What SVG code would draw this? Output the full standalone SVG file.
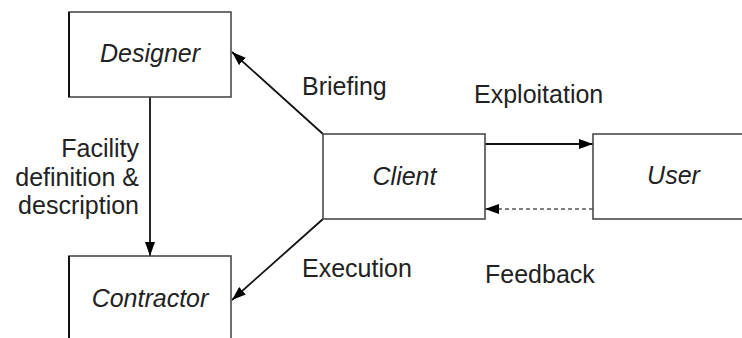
<svg xmlns="http://www.w3.org/2000/svg" width="742" height="338" viewBox="0 0 742 338">
  <style>
    .box { fill: #ffffff; stroke: #4a4a4a; stroke-width: 1.6; }
    .name { font-family: "Liberation Sans", Arial, sans-serif; font-style: italic; font-size: 25px; fill: #222; text-anchor: middle; }
    .lbl { font-family: "Liberation Sans", Arial, sans-serif; font-size: 25px; fill: #222; }
    .end { text-anchor: end; }
    .edge { stroke: #111; stroke-width: 1.8; fill: none; }
    .dash { stroke: #555; stroke-width: 1.3; fill: none; stroke-dasharray: 4 3; }
  </style>
  <defs>
    <marker id="arrow" viewBox="0 0 14 10" refX="14" refY="5" markerWidth="14" markerHeight="10" markerUnits="userSpaceOnUse" orient="auto">
      <path d="M0,0 L14,5 L0,10 Z" fill="#000"/>
    </marker>
  </defs>

  <rect width="742" height="338" fill="#ffffff"/>

  <g id="connectors">
    <line class="edge" x1="150" y1="97" x2="150" y2="256" marker-end="url(#arrow)"/>
    <line class="edge" x1="323" y1="134" x2="232" y2="52" marker-end="url(#arrow)"/>
    <line class="edge" x1="323" y1="219" x2="232" y2="300" marker-end="url(#arrow)"/>
    <line class="edge" x1="485" y1="144" x2="593" y2="144" marker-end="url(#arrow)"/>
    <line class="dash" x1="593" y1="209" x2="485" y2="209" marker-end="url(#arrow)"/>
  </g>

  <g id="designer">
    <rect class="box" x="69" y="12" width="162" height="85"/>
    <line x1="69" y1="12" x2="69" y2="97" stroke="#111" stroke-width="2"/>
    <text class="name" x="150" y="62">Designer</text>
  </g>

  <g id="contractor">
    <rect class="box" x="69" y="256" width="162" height="100"/>
    <line x1="69" y1="256" x2="69" y2="340" stroke="#111" stroke-width="2"/>
    <text class="name" x="150" y="307">Contractor</text>
  </g>

  <g id="client">
    <rect class="box" x="323" y="134" width="162" height="85"/>
    <text class="name" x="404.5" y="184.5">Client</text>
  </g>

  <g id="user">
    <rect class="box" x="593" y="134" width="162" height="85"/>
    <text class="name" x="673.5" y="184">User</text>
  </g>

  <g id="labels">
    <text class="lbl" x="302" y="95">Briefing</text>
    <text class="lbl" x="474" y="103">Exploitation</text>
    <text class="lbl" x="302" y="277">Execution</text>
    <text class="lbl" x="485" y="283">Feedback</text>
    <text class="lbl end" x="139" y="157">Facility</text>
    <text class="lbl end" x="139" y="186">definition &amp;</text>
    <text class="lbl end" x="139" y="214">description</text>
  </g>
</svg>
